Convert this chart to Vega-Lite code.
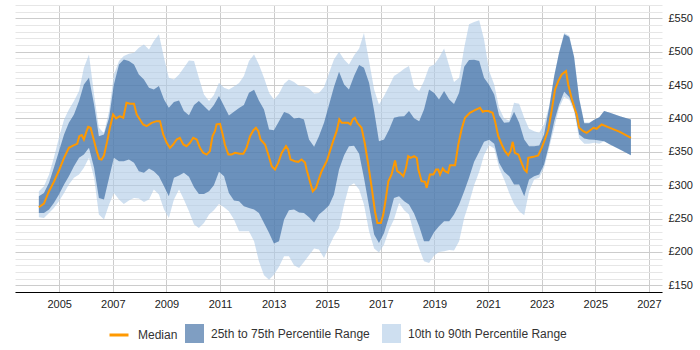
{
  "$schema": "https://vega.github.io/schema/vega-lite/v6.json",
  "autosize": {"type": "none"},
  "width": 647,
  "height": 287,
  "padding": {"left": 15, "top": 5, "right": 38, "bottom": 58},
  "config": {"view": {"stroke": null}, "font": "Liberation Sans"},
  "datasets": {
    "bands": [
      {"t":2004.24,"p10":252,"p25":258.5,"p75":283.5,"p90":291},
      {"t":2004.43,"p10":251,"p25":258.5,"p75":288.5,"p90":298.5},
      {"t":2004.62,"p10":258.5,"p25":263.5,"p75":303.5,"p90":316},
      {"t":2004.80,"p10":266,"p25":273.5,"p75":326,"p90":341},
      {"t":2004.99,"p10":276,"p25":286,"p75":351,"p90":371},
      {"t":2005.18,"p10":288.5,"p25":301,"p75":376,"p90":398.5},
      {"t":2005.36,"p10":301,"p25":313.5,"p75":393.5,"p90":413.5},
      {"t":2005.55,"p10":311,"p25":328.5,"p75":406,"p90":426},
      {"t":2005.74,"p10":316,"p25":341,"p75":426,"p90":441},
      {"t":2005.92,"p10":326,"p25":346,"p75":451,"p90":476},
      {"t":2006.11,"p10":341,"p25":356,"p75":461,"p90":496},
      {"t":2006.30,"p10":311,"p25":326,"p75":421,"p90":436},
      {"t":2006.48,"p10":256,"p25":281,"p75":373.5,"p90":386},
      {"t":2006.67,"p10":248.5,"p25":278.5,"p75":376,"p90":378},
      {"t":2006.86,"p10":271,"p25":311,"p75":401,"p90":411},
      {"t":2007.04,"p10":288.5,"p25":341,"p75":451,"p90":466},
      {"t":2007.23,"p10":278.5,"p25":336,"p75":481,"p90":486},
      {"t":2007.41,"p10":272,"p25":336,"p75":488.5,"p90":493.5},
      {"t":2007.60,"p10":277,"p25":338.5,"p75":486,"p90":497},
      {"t":2007.79,"p10":281,"p25":333.5,"p75":481,"p90":498.5},
      {"t":2007.97,"p10":280,"p25":321,"p75":466,"p90":506},
      {"t":2008.16,"p10":275,"p25":318.5,"p75":458.5,"p90":511},
      {"t":2008.35,"p10":278.5,"p25":325,"p75":446,"p90":503.5},
      {"t":2008.53,"p10":293.5,"p25":321,"p75":443.5,"p90":516},
      {"t":2008.72,"p10":286,"p25":313.5,"p75":448.5,"p90":526},
      {"t":2008.91,"p10":263.5,"p25":298.5,"p75":428.5,"p90":491},
      {"t":2009.09,"p10":251,"p25":283.5,"p75":416,"p90":461},
      {"t":2009.28,"p10":278.5,"p25":311,"p75":424.5,"p90":458.5},
      {"t":2009.47,"p10":293.5,"p25":314.5,"p75":427,"p90":466},
      {"t":2009.65,"p10":278.5,"p25":318.5,"p75":411,"p90":476},
      {"t":2009.84,"p10":261,"p25":312.5,"p75":405,"p90":487},
      {"t":2010.03,"p10":241,"p25":297,"p75":420,"p90":486},
      {"t":2010.21,"p10":236,"p25":287,"p75":426,"p90":461},
      {"t":2010.40,"p10":243.5,"p25":287,"p75":418.5,"p90":436},
      {"t":2010.59,"p10":256,"p25":291,"p75":411,"p90":426},
      {"t":2010.77,"p10":262.5,"p25":300,"p75":420,"p90":435},
      {"t":2010.96,"p10":272,"p25":320,"p75":433.5,"p90":453.5},
      {"t":2011.15,"p10":267,"p25":313.5,"p75":418.5,"p90":446},
      {"t":2011.33,"p10":261,"p25":288.5,"p75":404.5,"p90":443.5},
      {"t":2011.52,"p10":248.5,"p25":277,"p75":410,"p90":448},
      {"t":2011.71,"p10":231,"p25":276,"p75":415.5,"p90":453},
      {"t":2011.89,"p10":231,"p25":268.5,"p75":420,"p90":463.5},
      {"t":2012.08,"p10":231,"p25":266,"p75":438.5,"p90":486},
      {"t":2012.27,"p10":216,"p25":263.5,"p75":443,"p90":496},
      {"t":2012.45,"p10":186,"p25":258.5,"p75":427,"p90":481},
      {"t":2012.64,"p10":165,"p25":243.5,"p75":413.5,"p90":461},
      {"t":2012.83,"p10":158.5,"p25":228.5,"p75":383.5,"p90":438.5},
      {"t":2013.01,"p10":166,"p25":212.5,"p75":382.5,"p90":428.5},
      {"t":2013.20,"p10":178,"p25":216,"p75":396,"p90":437},
      {"t":2013.39,"p10":193.5,"p25":248.5,"p75":409.5,"p90":452},
      {"t":2013.57,"p10":193.5,"p25":262.5,"p75":407,"p90":458.5},
      {"t":2013.76,"p10":180,"p25":263.5,"p75":400,"p90":454.5},
      {"t":2013.95,"p10":176,"p25":259,"p75":401,"p90":448.5},
      {"t":2014.13,"p10":185,"p25":258.5,"p75":398.5,"p90":448.5},
      {"t":2014.32,"p10":195,"p25":252,"p75":368.5,"p90":445},
      {"t":2014.51,"p10":205,"p25":244,"p75":357.5,"p90":437.5},
      {"t":2014.69,"p10":203.5,"p25":256,"p75":373.5,"p90":438},
      {"t":2014.88,"p10":191,"p25":262.5,"p75":393.5,"p90":447},
      {"t":2015.07,"p10":208.5,"p25":270,"p75":421,"p90":468.5},
      {"t":2015.25,"p10":223.5,"p25":286,"p75":447,"p90":488.5},
      {"t":2015.44,"p10":236,"p25":323.5,"p75":470,"p90":500},
      {"t":2015.63,"p10":271,"p25":345,"p75":451,"p90":488.5},
      {"t":2015.81,"p10":298.5,"p25":358.5,"p75":443.5,"p90":481},
      {"t":2016.00,"p10":303,"p25":359,"p75":463.5,"p90":494.5},
      {"t":2016.19,"p10":293.5,"p25":347,"p75":480,"p90":505},
      {"t":2016.37,"p10":271,"p25":311,"p75":476,"p90":528},
      {"t":2016.56,"p10":231,"p25":268.5,"p75":453.5,"p90":486},
      {"t":2016.75,"p10":205,"p25":226,"p75":411,"p90":443.5},
      {"t":2016.93,"p10":199,"p25":213.5,"p75":366,"p90":421},
      {"t":2017.12,"p10":211,"p25":228.5,"p75":368.5,"p90":433.5},
      {"t":2017.31,"p10":233.5,"p25":253.5,"p75":383.5,"p90":448.5},
      {"t":2017.49,"p10":248.5,"p25":281,"p75":401,"p90":463.5},
      {"t":2017.68,"p10":273.5,"p25":283.5,"p75":403,"p90":468.5},
      {"t":2017.87,"p10":262.5,"p25":276,"p75":403.5,"p90":474.5},
      {"t":2018.05,"p10":256,"p25":271,"p75":411,"p90":478.5},
      {"t":2018.24,"p10":227.5,"p25":257.5,"p75":400.5,"p90":447.5},
      {"t":2018.43,"p10":205,"p25":238.5,"p75":396,"p90":441},
      {"t":2018.61,"p10":186,"p25":216,"p75":413.5,"p90":456},
      {"t":2018.80,"p10":183.5,"p25":216,"p75":443.5,"p90":477},
      {"t":2018.99,"p10":194.5,"p25":230,"p75":438,"p90":481},
      {"t":2019.17,"p10":200,"p25":238.5,"p75":428.5,"p90":491},
      {"t":2019.36,"p10":201,"p25":246,"p75":441,"p90":505},
      {"t":2019.55,"p10":203,"p25":246,"p75":428.5,"p90":478.5},
      {"t":2019.73,"p10":202,"p25":256,"p75":421.5,"p90":454.5},
      {"t":2019.92,"p10":216,"p25":271,"p75":438.5,"p90":461},
      {"t":2020.11,"p10":251,"p25":291,"p75":477.5,"p90":506},
      {"t":2020.29,"p10":273.5,"p25":311,"p75":487.5,"p90":541},
      {"t":2020.48,"p10":300,"p25":335,"p75":488,"p90":544.5},
      {"t":2020.67,"p10":320,"p25":350,"p75":486,"p90":547},
      {"t":2020.85,"p10":345,"p25":365,"p75":461,"p90":518.5},
      {"t":2021.04,"p10":360,"p25":368,"p75":450,"p90":471},
      {"t":2021.23,"p10":355,"p25":362,"p75":436,"p90":451},
      {"t":2021.41,"p10":326,"p25":333.5,"p75":405,"p90":416},
      {"t":2021.60,"p10":308.5,"p25":320,"p75":393.5,"p90":400},
      {"t":2021.79,"p10":288.5,"p25":313.5,"p75":394.5,"p90":397},
      {"t":2021.97,"p10":272,"p25":301,"p75":410,"p90":423.5},
      {"t":2022.16,"p10":261,"p25":301,"p75":393.5,"p90":422},
      {"t":2022.35,"p10":255,"p25":283.5,"p75":368.5,"p90":401},
      {"t":2022.53,"p10":291,"p25":308.5,"p75":358.5,"p90":384.5},
      {"t":2022.72,"p10":308.5,"p25":313.5,"p75":358.5,"p90":381},
      {"t":2022.91,"p10":311,"p25":316,"p75":359.5,"p90":378.5},
      {"t":2023.09,"p10":326,"p25":331,"p75":376,"p90":391},
      {"t":2023.28,"p10":356,"p25":361,"p75":416,"p90":418.5},
      {"t":2023.47,"p10":386,"p25":396,"p75":463.5,"p90":465},
      {"t":2023.65,"p10":416,"p25":421,"p75":498.5,"p90":499},
      {"t":2023.84,"p10":432,"p25":440,"p75":526,"p90":528},
      {"t":2024.03,"p10":428,"p25":432,"p75":522,"p90":524},
      {"t":2024.21,"p10":411,"p25":415,"p75":492,"p90":493},
      {"t":2024.40,"p10":370,"p25":376,"p75":429,"p90":431},
      {"t":2024.59,"p10":362,"p25":370,"p75":393,"p90":394},
      {"t":2024.77,"p10":362,"p25":368.5,"p75":393,"p90":394},
      {"t":2024.96,"p10":363.5,"p25":368,"p75":398,"p90":398},
      {"t":2025.15,"p10":362,"p25":367,"p75":402,"p90":402},
      {"t":2025.33,"p10":366,"p25":366,"p75":411,"p90":411},
      {"t":2025.55,"p10":361,"p25":361,"p75":408.5,"p90":408.5},
      {"t":2025.92,"p10":353.5,"p25":353.5,"p75":403.5,"p90":403.5},
      {"t":2026.33,"p10":345,"p25":345,"p75":398.5,"p90":398.5}
    ],
    "median": [
      {"t":2004.24,"v":267},{"t":2004.43,"v":272.5},{"t":2004.62,"v":291},{"t":2004.80,"v":305},
      {"t":2004.99,"v":322},{"t":2005.18,"v":341},{"t":2005.36,"v":356},{"t":2005.55,"v":360},
      {"t":2005.67,"v":362},{"t":2005.75,"v":373.5},{"t":2005.84,"v":375},{"t":2005.92,"v":368.5},
      {"t":2006.02,"v":381},{"t":2006.08,"v":387.5},{"t":2006.17,"v":386},{"t":2006.27,"v":371},
      {"t":2006.40,"v":351},{"t":2006.49,"v":339.5},{"t":2006.58,"v":338.5},{"t":2006.67,"v":344.5},
      {"t":2006.79,"v":366},{"t":2006.89,"v":386},{"t":2007.01,"v":406},{"t":2007.12,"v":400},
      {"t":2007.26,"v":403.5},{"t":2007.39,"v":401},{"t":2007.51,"v":423.5},{"t":2007.64,"v":422},
      {"t":2007.79,"v":422},{"t":2007.89,"v":406},{"t":2008.01,"v":398.5},{"t":2008.13,"v":391},
      {"t":2008.26,"v":388.5},{"t":2008.45,"v":393.5},{"t":2008.63,"v":396},{"t":2008.76,"v":396},
      {"t":2008.88,"v":376},{"t":2009.01,"v":363.5},{"t":2009.13,"v":356},{"t":2009.25,"v":361},
      {"t":2009.38,"v":368.5},{"t":2009.50,"v":371},{"t":2009.63,"v":361},{"t":2009.75,"v":358.5},
      {"t":2009.88,"v":363.5},{"t":2010.00,"v":371},{"t":2010.13,"v":368.5},{"t":2010.25,"v":356},
      {"t":2010.37,"v":348.5},{"t":2010.50,"v":346},{"t":2010.62,"v":351},{"t":2010.72,"v":373.5},
      {"t":2010.81,"v":381},{"t":2010.87,"v":391},{"t":2011.00,"v":392},{"t":2011.10,"v":376},
      {"t":2011.18,"v":361},{"t":2011.31,"v":346},{"t":2011.43,"v":346},{"t":2011.56,"v":348.5},
      {"t":2011.74,"v":347},{"t":2011.87,"v":347},{"t":2011.99,"v":356},{"t":2012.12,"v":373.5},
      {"t":2012.24,"v":382},{"t":2012.34,"v":386},{"t":2012.43,"v":381},{"t":2012.51,"v":368.5},
      {"t":2012.68,"v":361},{"t":2012.80,"v":346},{"t":2012.93,"v":328.5},{"t":2013.05,"v":323.5},
      {"t":2013.17,"v":333.5},{"t":2013.30,"v":348.5},{"t":2013.46,"v":358.5},{"t":2013.54,"v":353.5},
      {"t":2013.63,"v":338.5},{"t":2013.79,"v":336},{"t":2013.92,"v":335},{"t":2014.04,"v":338.5},
      {"t":2014.17,"v":334},{"t":2014.23,"v":323.5},{"t":2014.35,"v":306},{"t":2014.46,"v":291},
      {"t":2014.58,"v":296},{"t":2014.66,"v":306},{"t":2014.79,"v":321},{"t":2014.98,"v":336},
      {"t":2015.10,"v":351},{"t":2015.22,"v":366},{"t":2015.35,"v":381},{"t":2015.45,"v":398.5},
      {"t":2015.54,"v":393.5},{"t":2015.66,"v":393.5},{"t":2015.78,"v":393.5},{"t":2015.87,"v":391},
      {"t":2015.95,"v":398.5},{"t":2016.03,"v":401},{"t":2016.12,"v":393.5},{"t":2016.28,"v":386},
      {"t":2016.41,"v":361},{"t":2016.53,"v":331},{"t":2016.66,"v":296},{"t":2016.78,"v":261},
      {"t":2016.87,"v":243.5},{"t":2017.00,"v":243.5},{"t":2017.09,"v":256},{"t":2017.19,"v":281},
      {"t":2017.28,"v":306},{"t":2017.40,"v":316},{"t":2017.53,"v":337},{"t":2017.61,"v":321},
      {"t":2017.71,"v":318.5},{"t":2017.84,"v":313.5},{"t":2017.94,"v":326},{"t":2018.02,"v":343.5},
      {"t":2018.11,"v":341},{"t":2018.24,"v":343.5},{"t":2018.34,"v":341},{"t":2018.40,"v":323.5},
      {"t":2018.52,"v":306},{"t":2018.65,"v":305},{"t":2018.71,"v":296},{"t":2018.83,"v":316},
      {"t":2018.96,"v":316},{"t":2019.06,"v":323.5},{"t":2019.14,"v":323.5},{"t":2019.21,"v":316},
      {"t":2019.31,"v":325},{"t":2019.39,"v":321},{"t":2019.51,"v":318.5},{"t":2019.58,"v":330},
      {"t":2019.77,"v":330},{"t":2019.89,"v":361},{"t":2020.01,"v":383.5},{"t":2020.14,"v":401},
      {"t":2020.32,"v":408.5},{"t":2020.51,"v":412.5},{"t":2020.70,"v":416},{"t":2020.80,"v":410},
      {"t":2020.88,"v":411},{"t":2021.01,"v":411},{"t":2021.17,"v":408.5},{"t":2021.26,"v":396},
      {"t":2021.38,"v":373.5},{"t":2021.51,"v":361},{"t":2021.63,"v":351},{"t":2021.75,"v":345},
      {"t":2021.84,"v":351},{"t":2021.92,"v":365},{"t":2022.00,"v":348.5},{"t":2022.13,"v":346},
      {"t":2022.25,"v":333.5},{"t":2022.35,"v":323.5},{"t":2022.44,"v":320},{"t":2022.50,"v":341},
      {"t":2022.69,"v":342.5},{"t":2022.87,"v":344.5},{"t":2023.00,"v":356},{"t":2023.12,"v":368.5},
      {"t":2023.25,"v":383.5},{"t":2023.37,"v":411},{"t":2023.50,"v":443.5},{"t":2023.62,"v":456},
      {"t":2023.75,"v":466},{"t":2023.91,"v":471},{"t":2023.99,"v":451},{"t":2024.12,"v":430},
      {"t":2024.24,"v":414},{"t":2024.31,"v":406},{"t":2024.40,"v":386},{"t":2024.55,"v":381},
      {"t":2024.68,"v":378.5},{"t":2024.80,"v":382},{"t":2024.93,"v":386},{"t":2025.05,"v":384.5},
      {"t":2025.24,"v":391},{"t":2025.55,"v":386},{"t":2025.92,"v":380},{"t":2026.33,"v":371}
    ]
  },
  "encoding": {
    "x": {
      "field": "t", "type": "quantitative",
      "scale": {"domain": [2003.35, 2027.49], "nice": false, "zero": false},
      "axis": {
        "values": [2005, 2007, 2009, 2011, 2013, 2015, 2017, 2019, 2021, 2023, 2025, 2027],
        "tickCount": 30,
        "format": "d", "title": null, "grid": true, "gridColor": "#cccccc",
        "domainColor": "#000000", "ticks": false, "labelFontSize": 11,
        "labelColor": "#222222", "labelPadding": 6, "labelFlush": false
      }
    }
  },
  "layer": [
    {
      "data": {"name": "bands"},
      "mark": {"type": "area", "fillOpacity": 0.6},
      "encoding": {
        "y": {
          "field": "p10", "type": "quantitative",
          "scale": {"domain": [140, 570], "nice": false, "zero": false},
          "axis": {
            "orient": "right", "title": null,
            "values": [140,150,160,170,180,190,200,210,220,230,240,250,260,270,280,290,300,310,320,330,340,350,360,370,380,390,400,410,420,430,440,450,460,470,480,490,500,510,520,530,540,550,560,570],
            "tickCount": 100,
            "labelExpr": "datum.value % 50 === 0 ? '£' + datum.value : ''",
            "labelOverlap": false, "labelBound": false,
            "gridColor": {"condition": {"test": "datum.value % 50 === 0", "value": "#cccccc"}, "value": "#e6e6e6"},
            "ticks": false, "domain": false, "labelFontSize": 11,
            "labelColor": "#222222", "labelPadding": 6
          }
        },
        "y2": {"field": "p90"},
        "fill": {
          "datum": "10th to 90th Percentile Range", "type": "nominal",
          "scale": {"domain": ["25th to 75th Percentile Range", "10th to 90th Percentile Range"], "range": ["#295d99", "#adcae6"]},
          "legend": {
            "orient": "none", "legendX": 170, "legendY": 319, "padding": 0,
            "title": null, "direction": "horizontal",
            "symbolType": "square", "symbolSize": 361, "symbolStrokeWidth": 0,
            "symbolOpacity": 0.6, "labelFontSize": 12, "labelColor": "#333333",
            "labelOffset": 7, "columnPadding": 12
          }
        }
      }
    },
    {
      "data": {"name": "bands"},
      "mark": {"type": "area", "fillOpacity": 0.6},
      "encoding": {
        "y": {"field": "p25", "type": "quantitative"},
        "y2": {"field": "p75"},
        "fill": {"datum": "25th to 75th Percentile Range", "type": "nominal"}
      }
    },
    {
      "data": {"name": "median"},
      "mark": {"type": "line", "strokeWidth": 2},
      "encoding": {
        "y": {"field": "v", "type": "quantitative"},
        "stroke": {
          "datum": "Median", "type": "nominal",
          "scale": {"domain": ["Median"], "range": ["#ff9900"]},
          "legend": {
            "orient": "none", "legendX": 93, "legendY": 319, "padding": 0,
            "title": null, "direction": "horizontal",
            "symbolType": "stroke", "symbolSize": 361, "symbolStrokeWidth": 3,
            "labelFontSize": 12, "labelColor": "#333333", "labelOffset": 8
          }
        }
      }
    }
  ]
}
